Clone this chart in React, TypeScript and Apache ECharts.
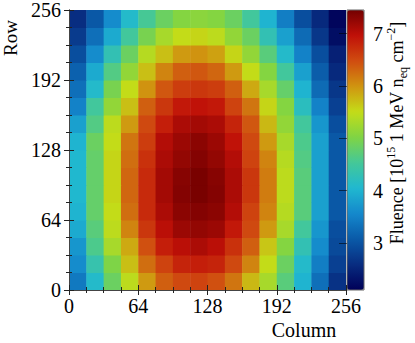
import React, { useEffect, useRef } from "react";
import * as echarts from "echarts";

// Cell lower edges (pixel index units) along column and row
const cellSize = 16;
const columnStarts = [0, 16, 32, 48, 64, 80, 96, 112, 128, 144, 160, 176, 192, 208, 224, 240];
const rowStarts = [0, 16, 32, 48, 64, 80, 96, 112, 128, 144, 160, 176, 192, 208, 224, 240];
const axisTicks = [0, 64, 128, 192, 256];
const colorbarTicks = [3, 4, 5, 6, 7];

// Fluence [1e15 1 MeV neq cm^-2], one array per row from bottom (row 0) to top (row 15)
const fluenceRow00 = [3.4, 4.1, 4.85, 5.45, 5.95, 6.35, 6.5, 6.55, 6.45, 6.2, 5.75, 5.3, 4.7, 4.0, 3.3, 2.65];
const fluenceRow01 = [3.6, 4.35, 5.0, 5.7, 6.25, 6.55, 6.8, 6.85, 6.8, 6.5, 6.1, 5.5, 4.85, 4.1, 3.45, 2.8];
const fluenceRow02 = [3.7, 4.6, 5.3, 5.85, 6.45, 6.85, 7.0, 7.1, 7.0, 6.7, 6.35, 5.65, 5.05, 4.3, 3.6, 2.9];
const fluenceRow03 = [3.9, 4.7, 5.45, 6.1, 6.65, 7.0, 7.2, 7.25, 7.2, 6.9, 6.5, 5.95, 5.3, 4.5, 3.7, 2.95];
const fluenceRow04 = [4.0, 4.8, 5.5, 6.25, 6.75, 7.1, 7.3, 7.35, 7.3, 7.05, 6.55, 6.1, 5.4, 4.7, 3.8, 3.05];
const fluenceRow05 = [4.05, 4.8, 5.55, 6.3, 6.75, 7.15, 7.35, 7.42, 7.35, 7.1, 6.65, 6.15, 5.45, 4.7, 3.8, 3.05];
const fluenceRow06 = [4.05, 4.8, 5.55, 6.3, 6.75, 7.15, 7.33, 7.42, 7.33, 7.1, 6.65, 6.15, 5.45, 4.7, 3.8, 3.05];
const fluenceRow07 = [4.05, 4.8, 5.55, 6.25, 6.7, 7.1, 7.25, 7.35, 7.25, 7.05, 6.55, 6.1, 5.4, 4.65, 3.8, 3.05];
const fluenceRow08 = [4.0, 4.85, 5.5, 6.2, 6.6, 7.05, 7.2, 7.3, 7.2, 6.95, 6.5, 5.95, 5.3, 4.6, 3.8, 3.05];
const fluenceRow09 = [3.8, 4.65, 5.45, 5.95, 6.5, 6.85, 7.1, 7.15, 7.1, 6.8, 6.4, 5.75, 5.15, 4.5, 3.7, 2.95];
const fluenceRow10 = [3.5, 4.5, 5.15, 5.7, 6.35, 6.65, 6.9, 6.95, 6.9, 6.55, 6.2, 5.55, 5.05, 4.2, 3.5, 2.8];
const fluenceRow11 = [3.3, 4.1, 4.95, 5.5, 6.0, 6.4, 6.6, 6.65, 6.6, 6.35, 5.85, 5.3, 4.8, 4.0, 3.25, 2.7];
const fluenceRow12 = [3.15, 3.9, 4.65, 5.15, 5.7, 6.1, 6.35, 6.4, 6.3, 5.95, 5.5, 5.05, 4.5, 3.8, 3.1, 2.55];
const fluenceRow13 = [2.95, 3.6, 4.3, 4.85, 5.4, 5.7, 5.95, 6.0, 5.9, 5.55, 5.15, 4.7, 4.1, 3.5, 2.95, 2.45];
const fluenceRow14 = [2.75, 3.3, 3.9, 4.5, 4.95, 5.3, 5.5, 5.55, 5.45, 5.15, 4.85, 4.3, 3.8, 3.25, 2.7, 2.25];
const fluenceRow15 = [2.6, 3.05, 3.6, 4.1, 4.55, 4.85, 5.05, 5.1, 5.05, 4.85, 4.5, 4.0, 3.45, 2.95, 2.55, 2.15];

const fluenceRows = [
  fluenceRow00, fluenceRow01, fluenceRow02, fluenceRow03,
  fluenceRow04, fluenceRow05, fluenceRow06, fluenceRow07,
  fluenceRow08, fluenceRow09, fluenceRow10, fluenceRow11,
  fluenceRow12, fluenceRow13, fluenceRow14, fluenceRow15,
];

const fluenceMin = 2.1;
const fluenceMax = 7.45;
const colormap = [
  "#000058", "#082c80", "#0a5aa8", "#1488cc", "#20b8d0", "#44c898",
  "#80d444", "#c4dc18", "#d09410", "#d04c10", "#c01008", "#740000",
];

const FONT = "'Liberation Serif', 'Times New Roman', serif";

export default function App() {
  const ref = useRef<HTMLDivElement>(null);

  useEffect(() => {
    if (!ref.current) return;
    const chart = echarts.init(ref.current, undefined, { renderer: "svg" });

    const data: number[][] = [];
    rowStarts.forEach((y0, r) => {
      columnStarts.forEach((x0, c) => {
        data.push([x0, y0, fluenceRows[r][c]]);
      });
    });

    const tickCommon = {
      axisLine: { show: true, lineStyle: { color: "#444", width: 1 } },
      axisTick: { show: true, inside: true, length: 5, lineStyle: { color: "#222", width: 1 } },
      minorTick: { show: true, splitNumber: 4, length: 3, lineStyle: { color: "#222", width: 1 } },
      splitLine: { show: false },
      minorSplitLine: { show: false },
      min: 0,
      max: 256,
      interval: 64,
      z: 10,
    };
    const labelCommon = {
      fontFamily: FONT,
      fontSize: 20,
      color: "#000",
    };

    chart.setOption({
      animation: false,
      backgroundColor: "#fff",
      grid: [
        { left: 69, top: 10, width: 277, height: 280, show: false },
        {
          left: 347, top: 10, width: 17, height: 280, show: true,
          backgroundColor: "transparent", borderColor: "#666", borderWidth: 1, z: 10,
        },
      ],
      xAxis: [
        { type: "value", gridIndex: 0, position: "bottom", ...tickCommon,
          axisLabel: { ...labelCommon, margin: 6, customValues: axisTicks } },
        { type: "value", gridIndex: 0, position: "top", ...tickCommon, axisLabel: { show: false } },
        { type: "value", gridIndex: 1, show: false, min: 0, max: 1 },
      ],
      yAxis: [
        { type: "value", gridIndex: 0, position: "left", ...tickCommon,
          axisLabel: { ...labelCommon, margin: 8, customValues: axisTicks } },
        { type: "value", gridIndex: 0, position: "right", ...tickCommon, axisLabel: { show: false } },
        {
          type: "value", gridIndex: 1, position: "right", min: fluenceMin, max: fluenceMax, z: 10,
          axisLine: { show: false },
          splitLine: { show: false },
          axisTick: { show: true, inside: true, length: 8, customValues: colorbarTicks,
            lineStyle: { color: "rgba(0,0,0,0.55)", width: 1 } },
          axisLabel: { ...labelCommon, margin: 9, customValues: colorbarTicks },
        },
      ],
      visualMap: {
        type: "continuous",
        seriesIndex: 0,
        dimension: 2,
        min: fluenceMin,
        max: fluenceMax,
        calculable: false,
        hoverLink: false,
        orient: "vertical",
        left: 347,
        top: 10,
        itemWidth: 17,
        itemHeight: 280,
        padding: 0,
        text: null,
        inRange: { color: colormap },
      },
      series: [
        {
          type: "custom",
          xAxisIndex: 0,
          yAxisIndex: 0,
          clip: true,
          encode: { x: 0, y: 1 },
          data,
          renderItem: (params: any, api: any) => {
            const x0 = api.value(0);
            const y0 = api.value(1);
            const p = api.coord([x0, y0 + cellSize]);
            const s = api.size([cellSize, cellSize]);
            return {
              type: "rect",
              shape: { x: p[0], y: p[1], width: s[0] + 0.5, height: s[1] + 0.5 },
              style: { fill: api.visual("color"), stroke: null },
            };
          },
        },
      ],
      graphic: [
        {
          type: "text", x: 10, y: 38, rotation: Math.PI / 2,
          style: { text: "Row", fontFamily: FONT, fontSize: 19, fill: "#000",
            align: "center", verticalAlign: "middle" },
        },
        {
          type: "text", x: 304, y: 330,
          style: { text: "Column", fontFamily: FONT, fontSize: 20, fill: "#000",
            align: "center", verticalAlign: "middle" },
        },
        {
          type: "text", x: 397, y: 133, rotation: Math.PI / 2,
          style: {
            text: "{n|Fluence [10}{sup|15}{n| 1 MeV n}{sub|eq}{n| cm}{sup|\u22122}{n|]}",
            align: "center", verticalAlign: "middle", fill: "#000",
            rich: {
              n: { fontFamily: FONT, fontSize: 18, lineHeight: 24, verticalAlign: "middle" },
              sup: { fontFamily: FONT, fontSize: 12, lineHeight: 12, verticalAlign: "top" },
              sub: { fontFamily: FONT, fontSize: 12, lineHeight: 12, verticalAlign: "bottom" },
            },
          },
        },
      ],
    });

    return () => chart.dispose();
  }, []);

  return (
    <div
      ref={ref}
      style={{ position: "absolute", left: 0, top: 0, width: 415, height: 343 }}
    />
  );
}
